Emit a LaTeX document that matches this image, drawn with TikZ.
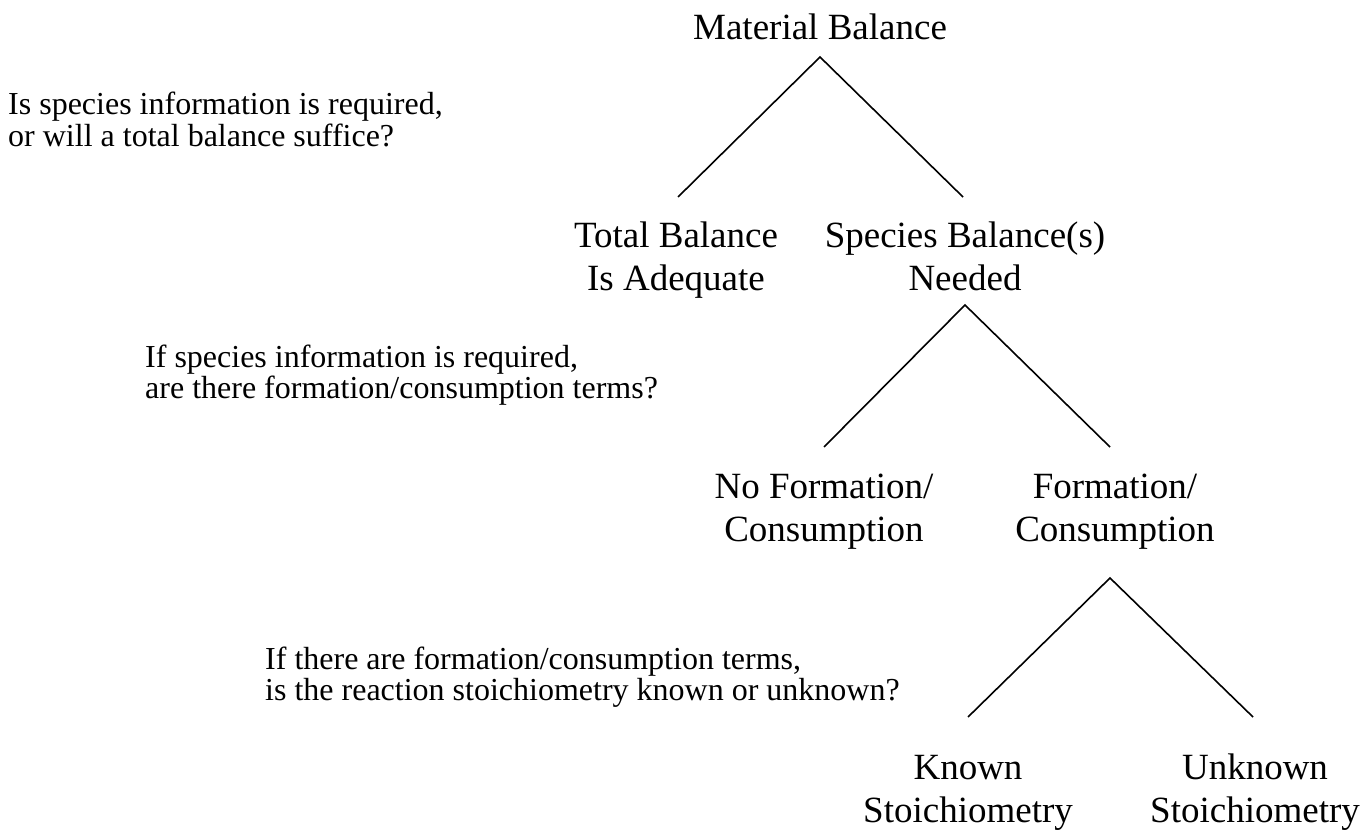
\documentclass[tikz,border=0pt]{standalone}
\usepackage{fontspec}
\setmainfont{Liberation Serif}
\newcommand{\twoln}[3]{\begin{tabular}[t]{@{}#1@{}}#2\\#3\end{tabular}}
\begin{document}
\begin{tikzpicture}[x=1pt,y=-1pt,
  big/.style={font=\fontsize{37}{43}\selectfont, inner sep=0pt, anchor=base},
  small/.style={font=\fontsize{32}{31}\selectfont, inner sep=0pt, anchor=base west},
  branch/.style={line width=1.6pt, line join=miter}]
\useasboundingbox (0,0) rectangle (1365,832);
% nodes
\node[big] (mb) at (820,40) {Material Balance};
\node[big] (tb) at (676,247) {\twoln{c}{Total Balance}{Is Adequate}};
\node[big] (sb) at (965,247) {\twoln{c}{Species Balance(s)}{Needed}};
\node[big] (nf) at (824,498) {\twoln{c}{No Formation/}{Consumption}};
\node[big] (fc) at (1115,498) {\twoln{c}{Formation/}{Consumption}};
\node[big] (ks) at (968,779) {\twoln{c}{Known}{Stoichiometry}};
\node[big] (us) at (1255,779) {\twoln{c}{Unknown}{Stoichiometry}};
\node[small] (q1) at (8,115) {\twoln{l}{Is species information is required,}{or will a total balance suffice?}};
\node[small] (q2) at (145,367) {\twoln{l}{If species information is required,}{are there formation/consumption terms?}};
\node[small] (q3) at (265,669) {\twoln{l}{If there are formation/consumption terms,}{is the reaction stoichiometry known or unknown?}};
% branch points
\coordinate (t1) at (820,57);  \coordinate (l1) at (678,197); \coordinate (r1) at (963,197);
\coordinate (t2) at (965,305); \coordinate (l2) at (824,447); \coordinate (r2) at (1110,447);
\coordinate (t3) at (1110,578); \coordinate (l3) at (968,717); \coordinate (r3) at (1253,717);
\draw[branch] (l1) -- (t1) -- (r1);
\draw[branch] (l2) -- (t2) -- (r2);
\draw[branch] (l3) -- (t3) -- (r3);
\end{tikzpicture}
\end{document}
